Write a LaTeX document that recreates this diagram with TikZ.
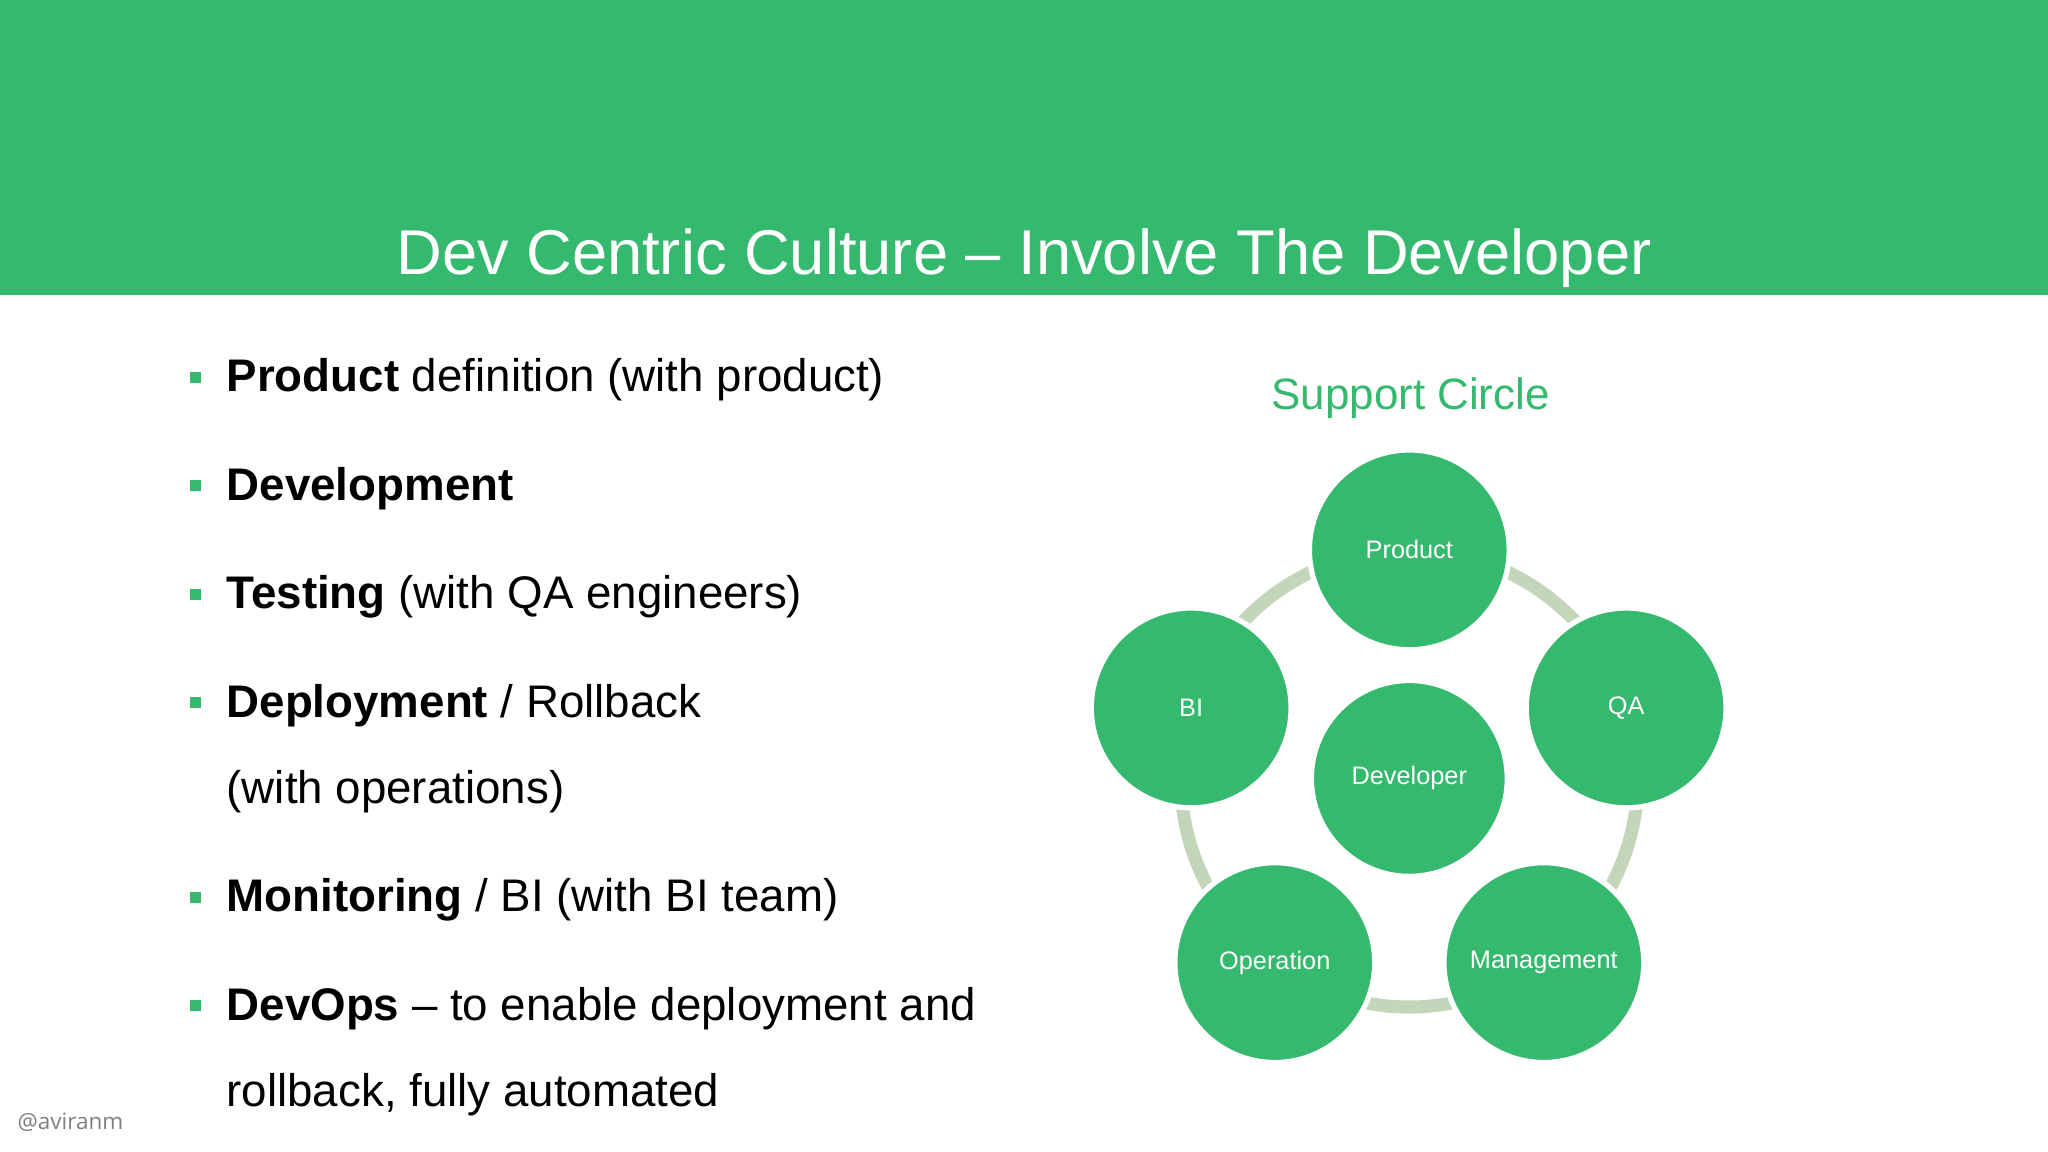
\documentclass[tikz,border=0pt]{standalone}
\usepackage{fontspec}
\setmainfont{Liberation Sans}
\newfontfamily\tagfont{Open Sans}
\usetikzlibrary{positioning}
\definecolor{slidegreen}{HTML}{34B96E}
\definecolor{ringgreen}{HTML}{C3D6BA}
\tikzset{
  member/.style={circle,fill=slidegreen,draw=white,line width=1.5pt,minimum size=153*0.013061cm,
    text=white,font=\fontsize{7.2}{9}\selectfont,inner sep=0pt},
  item/.style={anchor=base west,font=\fontsize{13}{15}\selectfont,inner sep=0pt},
  bulletmark/.style={fill=slidegreen,minimum size=0.11cm,inner sep=0pt}
}
\begin{document}
\begin{tikzpicture}[x=0.013061cm,y=-0.013061cm]
  \useasboundingbox (0,0) rectangle (1568,882);
  \fill[white] (0,0) rectangle (1568,882);
  \fill[slidegreen] (0,0) rectangle (1568,226);
  \node[text=white,font=\fontsize{18}{22}\selectfont,anchor=base] (title) at (784,210) {Dev Centric Culture -- Involve The Developer};

  % bullet list
  \foreach \y/\txt [count=\i] in {
      300/{\textbf{Product} definition (with product)},
      383/{\textbf{Development}},
      466/{\textbf{Testing} (with QA engineers)},
      549/{\textbf{Deployment} / Rollback},
      698/{\textbf{Monitoring} / BI (with BI team)},
      781/{\textbf{DevOps} -- to enable deployment and}}
    {
      \node[bulletmark] (m\i) at (150,\y-11) {};
      \node[item] (t\i) at (173,\y) {\txt};
    }
  \node[item] (t4b) at (173,615) {(with operations)};
  \node[item] (t6b) at (173,847) {rollback, fully automated};
  \node[text=gray,font=\tagfont\fontsize{6.4}{8}\selectfont,anchor=base west,inner sep=0pt] (tag) at (13,865) {@aviranm};

  % support circle
  \node[text=slidegreen,font=\fontsize{12.5}{15}\selectfont] (head) at (1080,305) {Support Circle};
  \node[member,minimum size=150*0.013061cm] (dev) at (1079,596) {Developer};
  \draw[ringgreen,line width=10*0.013061cm] (dev) circle[radius=175*0.013061cm];
  \node[member] (prod) at (1079,421) {Product};
  \node[member] (qa) at (1245,542) {QA};
  \node[member] (mgmt) at (1182,737) {Management};
  \node[member] (ops) at (976,737) {Operation};
  \node[member] (bi) at (912,542) {BI};
  \node[member,minimum size=150*0.013061cm] at (dev) {Developer};
\end{tikzpicture}
\end{document}
